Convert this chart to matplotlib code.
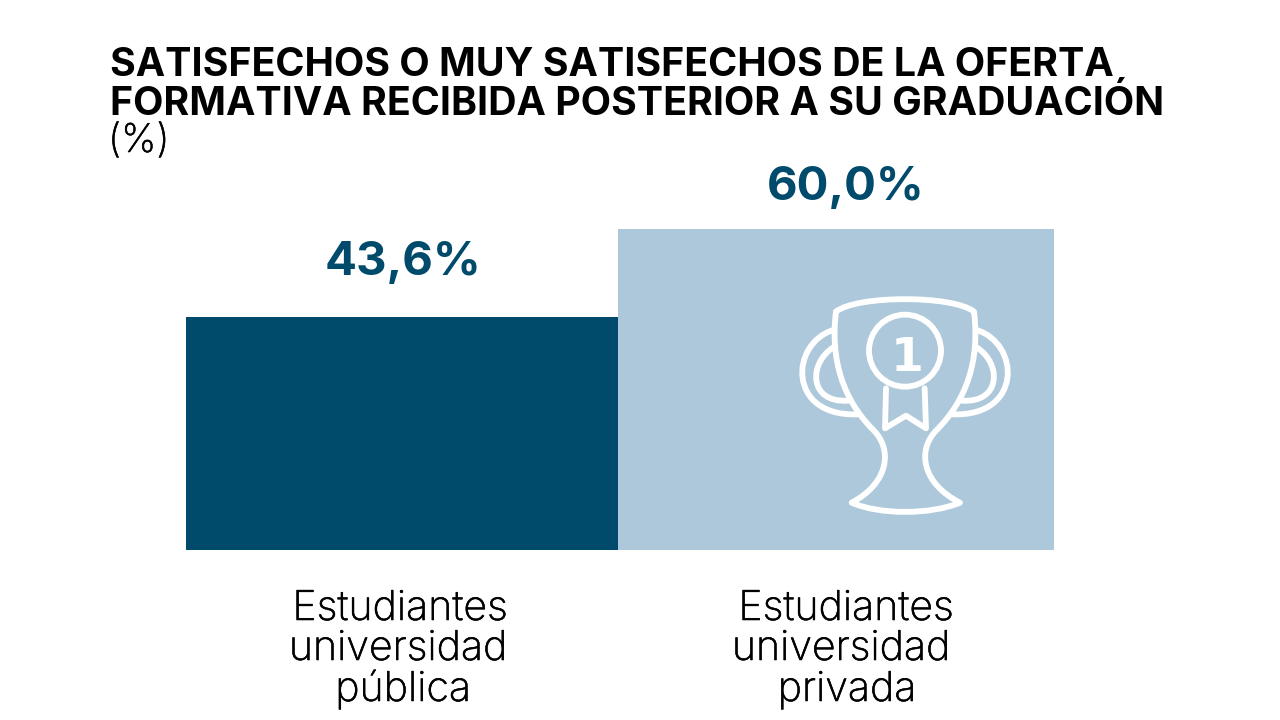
import matplotlib
matplotlib.use("Agg")
import matplotlib.pyplot as plt
import matplotlib.patheffects as pe
from matplotlib.patches import Circle, PathPatch
from matplotlib.path import Path

categorias = [["Estudiantes", "universidad", "pública"],
              ["Estudiantes", "universidad", "privada"]]
valores = [43.6, 60.0]
etiquetas = ["43,6%", "60,0%"]
titulo = ["SATISFECHOS O MUY SATISFECHOS DE LA OFERTA",
          "FORMATIVA RECIBIDA POSTERIOR A SU GRADUACIÓN"]
unidad = "(%)"

AZUL = "#004B6B"
CELESTE = "#ADC8DA"
W, H = 1280, 720

plt.rcParams['font.family'] = ['Inter', 'DejaVu Sans']
fig = plt.figure(figsize=(12.8, 7.2), dpi=100, facecolor="white")

# barras
ax = fig.add_axes([186 / W, (H - 550) / H, 868 / W, 321 / H])
ax.bar([0, 432], valores, width=[432, 436], align="edge", color=[AZUL, CELESTE])
ax.set_xlim(0, 868)
ax.set_ylim(0, 60)
ax.axis("off")

# capa de textos en pixeles
capa = fig.add_axes([0, 0, 1, 1])
capa.set_xlim(0, W)
capa.set_ylim(H, 0)
capa.axis("off")
capa.patch.set_alpha(0)

# la version light queda fina, se engrosa un poco
grueso = [pe.withStroke(linewidth=0.4, foreground="black")]

for txt, y in zip(titulo, [76, 115]):
    capa.text(110, y, txt, fontsize=28.35, fontweight="bold", color="black", va="baseline")
capa.text(108, 152, unidad, fontsize=28.5, fontweight="light", color="black", va="baseline",
          path_effects=grueso)

for etq, x, y in zip(etiquetas, [403, 846], [275, 200]):
    capa.text(x, y, etq, fontsize=34, fontweight="bold", color=AZUL, ha="center", va="baseline")

centros = [[400, 398, 403], [846, 841, 847]]
for lineas, xs in zip(categorias, centros):
    for linea, x, y in zip(lineas, xs, [620, 660, 701]):
        capa.text(x, y, linea, fontsize=29.6, fontweight="light", color="black", ha="center",
                  va="baseline", path_effects=grueso)

# trofeo
icono = fig.add_axes([780 / W, (H - 530) / H, 250 / W, 250 / H])
icono.set_xlim(0, 750)
icono.set_ylim(750, 0)
icono.axis("off")
icono.patch.set_alpha(0)

M, L, C = Path.MOVETO, Path.LINETO, Path.CURVE4
copa = Path(
    [(168, 95), (230, 45), (520, 45), (582, 95),
     (600, 240), (560, 360), (470, 450),
     (410, 510), (425, 610), (540, 668),
     (450, 705), (300, 705), (215, 668),
     (325, 610), (340, 510), (280, 450),
     (190, 360), (150, 240), (168, 95)],
    [M, C, C, C, C, C, C, C, C, C, C, C, C, C, C, C, C, C, C])
asas = Path(
    [(160, 150), (30, 190), (20, 410), (232, 403),
     (160, 202), (85, 250), (85, 370), (205, 362),
     (590, 150), (720, 190), (730, 410), (518, 403),
     (590, 202), (665, 250), (665, 370), (545, 362)],
    [M, C, C, C, M, C, C, C, M, C, C, C, M, C, C, C])
cinta = Path([(318, 325), (315, 445), (378, 407), (438, 445), (434, 325)],
             [M, L, L, L, L])
for p in (copa, asas, cinta):
    icono.add_patch(PathPatch(p, fc="none", ec="white", lw=4.2, capstyle="round", joinstyle="round"))
icono.add_patch(Circle((375, 212), 108, fc="none", ec="white", lw=4.2))
icono.text(380, 272, "1", fontsize=34, fontweight="bold", family="DejaVu Sans",
           color="white", ha="center", va="baseline")

fig.savefig("out.png", dpi=100)
